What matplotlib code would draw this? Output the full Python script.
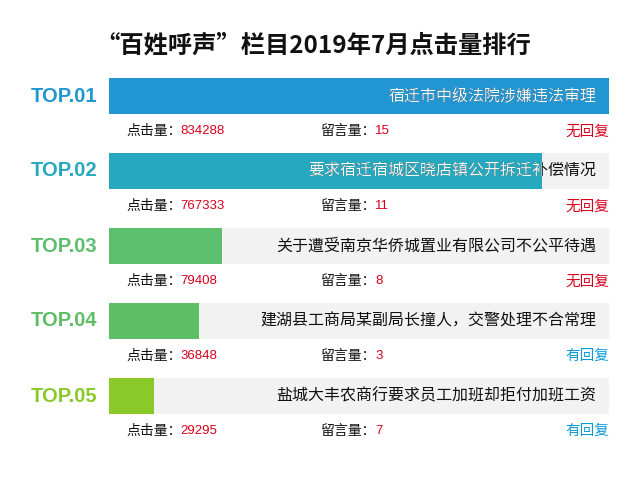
import matplotlib
matplotlib.use("Agg")
import matplotlib.pyplot as plt

plt.rcParams['font.family'] = ['Noto Sans CJK SC', 'DejaVu Sans']

# data
ranks = ["TOP.01", "TOP.02", "TOP.03", "TOP.04", "TOP.05"]
topics = ["宿迁市中级法院涉嫌违法审理",
          "要求宿迁宿城区晓店镇公开拆迁补偿情况",
          "关于遭受南京华侨城置业有限公司不公平待遇",
          "建湖县工商局某副局长撞人，交警处理不合常理",
          "盐城大丰农商行要求员工加班却拒付加班工资"]
clicks = [834288, 767333, 79408, 36848, 29295]
messages = [15, 11, 8, 3, 7]
replied = [False, False, False, True, True]
# bar length as drawn (percent of full width, not proportional to clicks)
bar_len = [100, 86.6, 22.6, 18.0, 9.0]
colors = ["#2196D3", "#26A8BE", "#5CBF6E", "#5DBE66", "#8BC929"]

num_font = ["Liberation Sans Narrow", "Liberation Sans", "DejaVu Sans"]

fig = plt.figure(figsize=(6.4, 5.0), dpi=100)
ax = fig.add_axes([109/640, 1 - 433.5/500, 500/640, 375/500])
ax.set_xlim(0, 100)
ax.set_ylim(4.5, -0.5)
ax.axis("off")

ypos = list(range(len(ranks)))
ax.barh(ypos, [100]*len(ranks), height=0.48, color="#F2F2F2")
bars = ax.barh(ypos, bar_len, height=0.48, color=colors)

for i in ypos:
    ax.text(-2.4, i, ranks[i], ha="right", va="center", fontsize=14.5,
            fontweight="bold", color=colors[i], family=["Liberation Sans", "DejaVu Sans"],
            clip_on=False)
    # black text, then white copy clipped to the coloured bar
    ax.text(97.4, i, topics[i], ha="right", va="center", fontsize=11.5, color="#111111")
    t = ax.text(97.4, i, topics[i], ha="right", va="center", fontsize=11.5,
                color="white", clip_on=True)
    t.set_clip_path(bars[i])

    sy = i + 0.47
    ax.text(3.4, sy, "点击量：", ha="left", va="center", fontsize=10, color="#111111")
    ax.text(14.2, sy, str(clicks[i]), ha="left", va="center", fontsize=9.5,
            color="#D9001B", family=num_font)
    ax.text(42.4, sy, "留言量：", ha="left", va="center", fontsize=10, color="#111111")
    ax.text(53.2, sy, str(messages[i]), ha="left", va="center", fontsize=9.5,
            color="#D9001B", family=num_font)
    if replied[i]:
        ax.text(100, sy, "有回复", ha="right", va="center", fontsize=10.5, color="#0A9AD8")
    else:
        ax.text(100, sy, "无回复", ha="right", va="center", fontsize=10.5, color="#D9001B")

fig.text(0.489, 1 - 46/500, "“百姓呼声”栏目2019年7月点击量排行", ha="center", va="center",
         fontsize=17.5, fontweight="bold", color="#111111")

fig.savefig("out.png", dpi=100, facecolor="white")
